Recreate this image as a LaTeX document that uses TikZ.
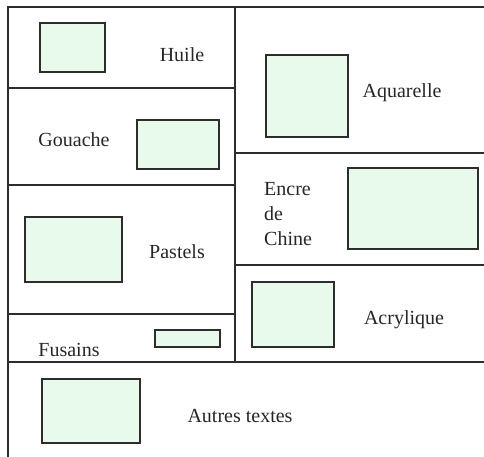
\documentclass[tikz,border=0pt]{standalone}
\usepackage{fontspec}
\setmainfont{Liberation Serif}
\definecolor{mint}{RGB}{232,250,236}
\definecolor{ink}{RGB}{45,45,45}
\begin{document}
\begin{tikzpicture}[x=1pt,y=-1pt,
  frame/.style={draw=ink,line width=1.3pt},
  img/.style={draw=ink,line width=1.2pt,fill=mint,rectangle,inner sep=0pt},
  lbl/.style={font=\fontsize{20}{24}\selectfont,anchor=base,inner sep=0pt,text=black!85}]
\useasboundingbox (0,0) rectangle (484,457);
% frame lines
\draw[frame] (484,7) -- (8,7) -- (8,457);
\draw[frame] (235,7) -- (235,362);
\draw[frame] (8,88) -- (235,88);
\draw[frame] (8,185) -- (235,185);
\draw[frame] (8,314) -- (235,314);
\draw[frame] (8,362) -- (484,362);
\draw[frame] (235,153) -- (484,153);
\draw[frame] (235,265) -- (484,265);
% picture boxes
\node[img,minimum width=65pt,minimum height=49pt] (huileimg) at (72.5,47.5) {};
\node[img,minimum width=82pt,minimum height=49pt] (gouacheimg) at (178,144.5) {};
\node[img,minimum width=97pt,minimum height=65pt] (pastelsimg) at (73.5,249.5) {};
\node[img,minimum width=65pt,minimum height=17pt] (fusainsimg) at (187.5,338.5) {};
\node[img,minimum width=98pt,minimum height=64pt] (autresimg) at (91,411) {};
\node[img,minimum width=82pt,minimum height=82pt] (aquarelleimg) at (307,96) {};
\node[img,minimum width=130pt,minimum height=81pt] (encreimg) at (413,208.5) {};
\node[img,minimum width=82pt,minimum height=65pt] (acryliqueimg) at (293,314.5) {};
% labels
\node[lbl] (huile) at (182,62) {Huile};
\node[lbl] (gouache) at (74,147) {Gouache};
\node[lbl] (pastels) at (177,258) {Pastels};
\node[lbl] (fusains) at (69,356) {Fusains};
\node[lbl] (autres) at (240,422) {Autres textes};
\node[lbl] (aquarelle) at (402,98) {Aquarelle};
\node[lbl,anchor=base west] (encre1) at (264,196) {Encre};
\node[lbl,anchor=base west] (encre2) at (264,220) {de};
\node[lbl,anchor=base west] (encre3) at (264,245) {Chine};
\node[lbl] (acrylique) at (404,324) {Acrylique};
\end{tikzpicture}
\end{document}
